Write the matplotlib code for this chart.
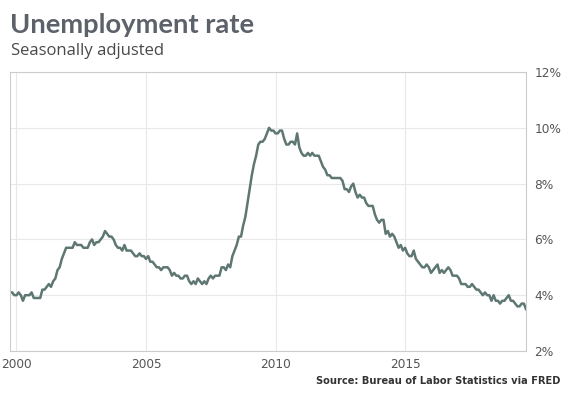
import numpy as np
import matplotlib.pyplot as plt

# Monthly unemployment rate, Oct 1999 - Sep 2019 (%)
start_year = 1999
start_month = 10
rate_1999 = [4.1, 4.1, 4.0]
rate_2000 = [4.0, 4.1, 4.0, 3.8, 4.0, 4.0, 4.0, 4.1, 3.9, 3.9, 3.9, 3.9]
rate_2001 = [4.2, 4.2, 4.3, 4.4, 4.3, 4.5, 4.6, 4.9, 5.0, 5.3, 5.5, 5.7]
rate_2002 = [5.7, 5.7, 5.7, 5.9, 5.8, 5.8, 5.8, 5.7, 5.7, 5.7, 5.9, 6.0]
rate_2003 = [5.8, 5.9, 5.9, 6.0, 6.1, 6.3, 6.2, 6.1, 6.1, 6.0, 5.8, 5.7]
rate_2004 = [5.7, 5.6, 5.8, 5.6, 5.6, 5.6, 5.5, 5.4, 5.4, 5.5, 5.4, 5.4]
rate_2005 = [5.3, 5.4, 5.2, 5.2, 5.1, 5.0, 5.0, 4.9, 5.0, 5.0, 5.0, 4.9]
rate_2006 = [4.7, 4.8, 4.7, 4.7, 4.6, 4.6, 4.7, 4.7, 4.5, 4.4, 4.5, 4.4]
rate_2007 = [4.6, 4.5, 4.4, 4.5, 4.4, 4.6, 4.7, 4.6, 4.7, 4.7, 4.7, 5.0]
rate_2008 = [5.0, 4.9, 5.1, 5.0, 5.4, 5.6, 5.8, 6.1, 6.1, 6.5, 6.8, 7.3]
rate_2009 = [7.8, 8.3, 8.7, 9.0, 9.4, 9.5, 9.5, 9.6, 9.8, 10.0, 9.9, 9.9]
rate_2010 = [9.8, 9.8, 9.9, 9.9, 9.6, 9.4, 9.4, 9.5, 9.5, 9.4, 9.8, 9.3]
rate_2011 = [9.1, 9.0, 9.0, 9.1, 9.0, 9.1, 9.0, 9.0, 9.0, 8.8, 8.6, 8.5]
rate_2012 = [8.3, 8.3, 8.2, 8.2, 8.2, 8.2, 8.2, 8.1, 7.8, 7.8, 7.7, 7.9]
rate_2013 = [8.0, 7.7, 7.5, 7.6, 7.5, 7.5, 7.3, 7.2, 7.2, 7.2, 6.9, 6.7]
rate_2014 = [6.6, 6.7, 6.7, 6.2, 6.3, 6.1, 6.2, 6.1, 5.9, 5.7, 5.8, 5.6]
rate_2015 = [5.7, 5.5, 5.4, 5.4, 5.6, 5.3, 5.2, 5.1, 5.0, 5.0, 5.1, 5.0]
rate_2016 = [4.8, 4.9, 5.0, 5.1, 4.8, 4.9, 4.8, 4.9, 5.0, 4.9, 4.7, 4.7]
rate_2017 = [4.7, 4.6, 4.4, 4.4, 4.4, 4.3, 4.3, 4.4, 4.3, 4.2, 4.2, 4.1]
rate_2018 = [4.0, 4.1, 4.0, 4.0, 3.8, 4.0, 3.8, 3.8, 3.7, 3.8, 3.8, 3.9]
rate_2019 = [4.0, 3.8, 3.8, 3.7, 3.6, 3.6, 3.7, 3.7, 3.5]

rates = (rate_1999 + rate_2000 + rate_2001 + rate_2002 + rate_2003 + rate_2004
         + rate_2005 + rate_2006 + rate_2007 + rate_2008 + rate_2009 + rate_2010
         + rate_2011 + rate_2012 + rate_2013 + rate_2014 + rate_2015 + rate_2016
         + rate_2017 + rate_2018 + rate_2019)
rates = np.array(rates)
dates = start_year + (start_month - 1 + np.arange(len(rates))) / 12.0

year_ticks = [2000, 2005, 2010, 2015]
pct_ticks = [2, 4, 6, 8, 10, 12]

fig = plt.figure(figsize=(5.69, 3.97), dpi=100)
ax = fig.add_axes([10 / 569, 1 - 351 / 397, 516 / 569, 279 / 397])

ax.plot(dates, rates, color='#5e7773', linewidth=1.8, solid_joinstyle='round')

ax.set_xlim(dates[0], dates[-1])
ax.set_ylim(2, 12)
ax.set_xticks(year_ticks)
ax.set_xticklabels([str(y) for y in year_ticks])
ax.set_yticks(pct_ticks)
ax.set_yticklabels([f'{p}%' for p in pct_ticks])
ax.yaxis.tick_right()
ax.tick_params(axis='both', length=0, labelsize=8.7, labelcolor='#555555')
ax.tick_params(axis='y', pad=6)
ax.tick_params(axis='x', pad=5)
for lab in ax.get_xticklabels() + ax.get_yticklabels():
    lab.set_family('DejaVu Sans')

ax.grid(True, color='#e8e8e8', linewidth=0.8)
ax.set_axisbelow(True)
for side in ['left', 'right', 'top', 'bottom']:
    ax.spines[side].set_color('#cccccc')
    ax.spines[side].set_linewidth(0.8)

fig.text(10 / 569, 1 - 25 / 397, 'Unemployment rate', fontsize=19.7, fontweight='bold',
         family='Lato', color='#5c616a', va='center', ha='left')
fig.text(11 / 569, 1 - 51 / 397, 'Seasonally adjusted', fontsize=12,
         family='Open Sans', color='#4a4a4a', va='center', ha='left')
fig.text(560 / 569, 1 - 381 / 397, 'Source: Bureau of Labor Statistics via FRED',
         fontsize=7.1, fontweight='bold', family='DejaVu Sans', color='#333333',
         va='center', ha='right')

fig.savefig('out.png', dpi=100)
